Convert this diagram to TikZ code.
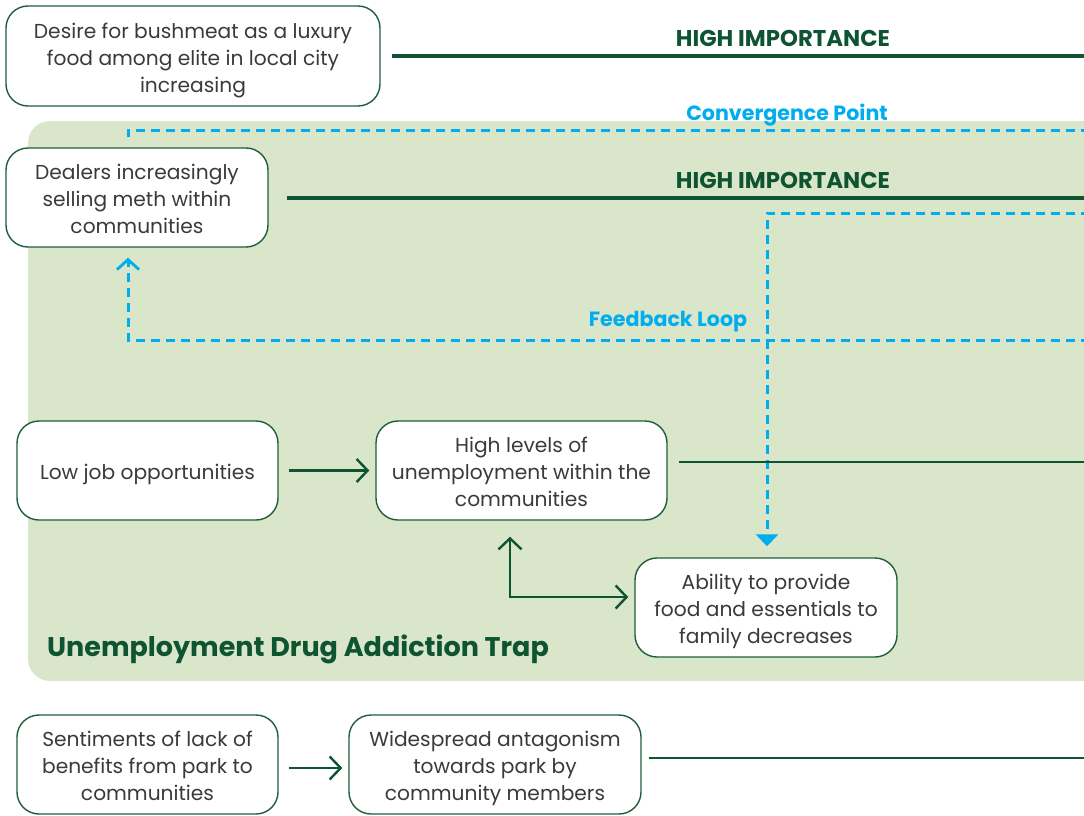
\documentclass[tikz,border=0pt]{standalone}
\usepackage{fontspec}
\setmainfont{Poppins}
\usetikzlibrary{arrows.meta}
\definecolor{dkgreen}{HTML}{0E5332}
\definecolor{boxline}{HTML}{1E5E3A}
\definecolor{bggreen}{HTML}{D9E6C9}
\definecolor{cyanc}{HTML}{00AEEF}
\definecolor{txt}{HTML}{3A3A3A}
\newcommand{\btext}[1]{\raisebox{0pt}[\dimexpr\height+8pt\relax][\depth]{\begin{tabular}{@{}c@{}}#1\end{tabular}}}
\tikzset{
  box/.style={draw=boxline, line width=1.4pt, fill=white, rounded corners=22pt, align=center,
    text=txt, font=\fontsize{20.2}{27}\selectfont, inner sep=0pt},
  impline/.style={draw=dkgreen, line width=4.8pt},
  thinline/.style={draw=dkgreen, line width=2.4pt},
  barb/.tip={Straight Barb[length=11pt,width=23pt,line width=2.4pt]},
  garrow/.style={draw=dkgreen, line width=2.4pt, -barb},
  gbiarrow/.style={draw=dkgreen, line width=2.4pt, barb-barb},
  cdash/.style={draw=cyanc, line width=3pt, dash pattern=on 9pt off 6pt},
  implabel/.style={text=dkgreen, font=\fontsize{22.8}{26}\selectfont\bfseries},
  clabel/.style={text=cyanc, font=\fontsize{20.6}{24}\selectfont\bfseries},
}
\begin{document}
\begin{tikzpicture}[x=1pt,y=-1pt]
\useasboundingbox (0,0) rectangle (1084,816);
\clip (0,0) rectangle (1084,816);
% background region
\fill[bggreen, rounded corners=22pt] (28,121) rectangle (1130,681);
\node[text=dkgreen, font=\fontsize{27}{32}\selectfont\bfseries, anchor=base west, inner sep=0pt] (title) at (47,656) {Unemployment Drug Addiction Trap};

% boxes
\node[box, minimum width=374pt, minimum height=100pt] (desire) at (193,56) {\btext{Desire for bushmeat as a luxury\\food among elite in local city\\increasing}};
\node[box, minimum width=262pt, minimum height=99pt] (dealers) at (137,197.5) {\btext{Dealers increasingly\\selling meth within\\communities}};
\node[box, minimum width=261pt, minimum height=99pt] (lowjob) at (147.5,470.5) {\btext{Low job opportunities}};
\node[box, minimum width=291pt, minimum height=99pt] (highun) at (521.5,470.5) {\btext{High levels of\\unemployment within the\\communities}};
\node[box, minimum width=262pt, minimum height=99pt] (ability) at (766,607.5) {\btext{Ability to provide\\food and essentials to\\family decreases}};
\node[box, minimum width=261pt, minimum height=99pt] (sent) at (147.5,764.5) {\btext{Sentiments of lack of\\benefits from park to\\communities}};
\node[box, minimum width=292pt, minimum height=99pt] (wide) at (495,764.5) {\btext{Widespread antagonism\\towards park by\\community members}};

% edge coordinates
\coordinate (e1) at (1090,56);
\coordinate (e2) at (1090,198);
\coordinate (e3) at (1090,462);
\coordinate (e4) at (1090,758);
\coordinate (cvR) at (1090,130);
\coordinate (cvL) at (128,130);
\coordinate (cvD) at (128,142);
\coordinate (fbR) at (1090,213);
\coordinate (fbC) at (767,213);
\coordinate (flR) at (1090,340);
\coordinate (flC) at (128,340);
\coordinate (biC) at (510,597);

% high importance lines
\draw[impline] ([xshift=11pt]desire.east |- 0,56) -- (e1);
\node[implabel] (hi1) at (783,38) {HIGH IMPORTANCE};
\draw[impline] ([xshift=18pt]dealers.east |- 0,198) -- (e2);
\node[implabel] (hi2) at (783,180) {HIGH IMPORTANCE};

% convergence point
\draw[cdash] (cvR) -- (cvL) -- (cvD);
\node[clabel] (conv) at (787,115) {Convergence Point};
\draw[cdash, -{Triangle[length=12pt,width=22pt]}] (fbR) -- (fbC) -- ([yshift=11pt]ability.north -| fbC);

% feedback loop
\draw[cdash, -{Straight Barb[length=10pt,width=22pt,line width=2.8pt]}] (flR) -- (flC) -- ([yshift=-10pt]dealers.south -| flC);
\node[clabel] (fb) at (668,322) {Feedback Loop};

% connectors
\draw[garrow] ([xshift=10pt]lowjob.east) -- ([xshift=-6pt]highun.west);
\draw[thinline] ([xshift=11pt]highun.east |- 0,462) -- (e3);
\draw[gbiarrow] ([yshift=-16pt]highun.south -| biC) -- (biC) -- ([xshift=-6pt]ability.west |- biC);
\draw[garrow] ([xshift=10pt]sent.east |- 0,768) -- ([xshift=-6pt]wide.west |- 0,768);
\draw[thinline] ([xshift=7pt]wide.east |- 0,758) -- (e4);
\end{tikzpicture}
\end{document}
